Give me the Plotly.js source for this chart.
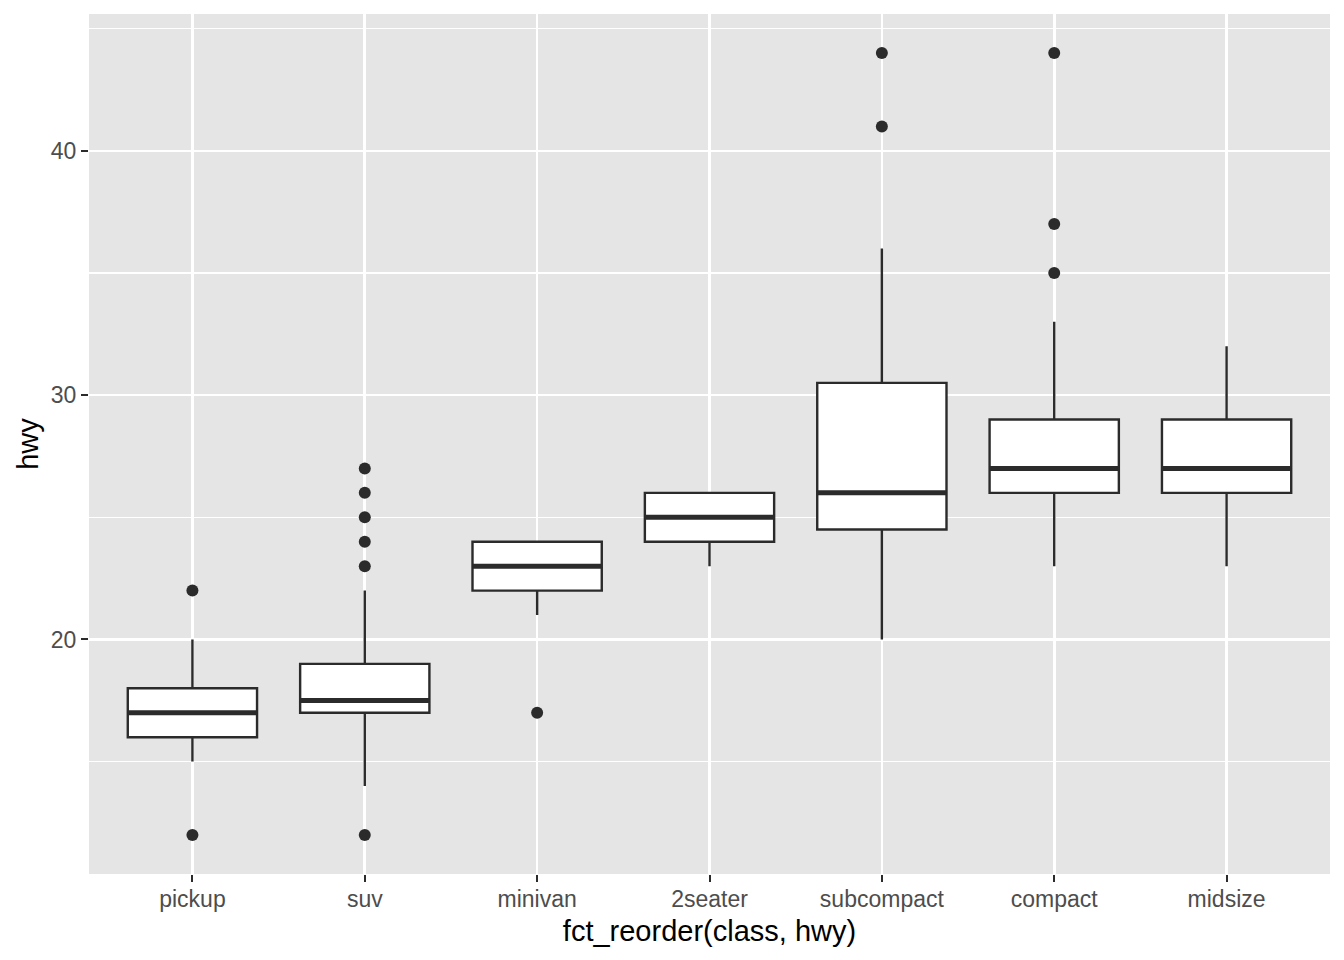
<!DOCTYPE html>
<html>
<head>
<meta charset="utf-8">
<script src="https://cdn.plot.ly/plotly-3.0.1.min.js"></script>
<style>html,body{margin:0;padding:0;background:#fff;}#chart{width:1344px;height:960px;}</style>
</head>
<body>
<div id="chart"></div>
<script>
const categories = ["pickup", "suv", "minivan", "2seater", "subcompact", "compact", "midsize"];
const q1Values = [16, 17, 22, 24, 24.5, 26, 26];
const medianValues = [17, 17.5, 23, 25, 26, 27, 27];
const q3Values = [18, 19, 24, 26, 30.5, 29, 29];
const lowerWhisker = [15, 14, 21, 23, 20, 23, 23];
const upperWhisker = [20, 22, 24, 26, 36, 33, 32];
const outlierClass = ["pickup", "pickup", "suv", "suv", "suv", "suv", "suv", "suv", "minivan", "subcompact", "subcompact", "compact", "compact", "compact"];
const outlierHwy = [12, 22, 12, 23, 24, 25, 26, 27, 17, 41, 44, 35, 37, 44];
const yTicks = [20, 30, 40];

const dark = "#2b2b2b";
const traces = [
  {
    type: "box", x: categories, q1: q1Values, median: medianValues, q3: q3Values,
    lowerfence: lowerWhisker, upperfence: upperWhisker,
    width: 0.75, whiskerwidth: 0, fillcolor: "#ffffff",
    line: {color: dark, width: 2.4}, boxpoints: false, hoverinfo: "skip", showlegend: false
  },
  {
    type: "box", x: categories, q1: medianValues, median: medianValues, q3: medianValues,
    lowerfence: medianValues, upperfence: medianValues,
    width: 0.75, whiskerwidth: 0, fillcolor: "rgba(0,0,0,0)",
    line: {color: dark, width: 5}, boxpoints: false, hoverinfo: "skip", showlegend: false
  },
  {
    type: "scatter", mode: "markers", x: outlierClass, y: outlierHwy,
    marker: {color: dark, size: 12}, showlegend: false, hoverinfo: "skip"
  }
];

const layout = {
  width: 1344, height: 960,
  margin: {l: 89, r: 14, t: 14, b: 86},
  paper_bgcolor: "#ffffff", plot_bgcolor: "#E5E5E5",
  font: {family: "Liberation Sans, Arial, sans-serif", color: "#4D4D4D", size: 23},
  showlegend: false,
  xaxis: {
    type: "category", categoryorder: "array", categoryarray: categories,
    range: [-0.6, 6.6], showgrid: true, gridcolor: "#ffffff", gridwidth: 2.6,
    zeroline: false, showline: false,
    ticks: "outside", ticklen: 7, tickwidth: 2, tickcolor: dark, ticklabelstandoff: -3,
    tickfont: {size: 23, color: "#4D4D4D"},
    title: {text: "fct_reorder(class, hwy)", font: {size: 29, color: "#000000"}, standoff: 10}
  },
  yaxis: {
    range: [10.4, 45.6], tickvals: yTicks, showgrid: true, gridcolor: "#ffffff", gridwidth: 2.6,
    zeroline: false, showline: false,
    ticks: "outside", ticklen: 7, tickwidth: 2, tickcolor: dark,
    tickfont: {size: 23, color: "#4D4D4D"},
    minor: {tickvals: [15, 25, 35, 45], showgrid: true, gridcolor: "#ffffff", gridwidth: 1.3, ticks: ""},
    title: {text: "hwy", font: {size: 29, color: "#000000"}, standoff: 3}
  }
};

Plotly.newPlot("chart", traces, layout, {displayModeBar: false, staticPlot: true});
</script>
</body>
</html>
